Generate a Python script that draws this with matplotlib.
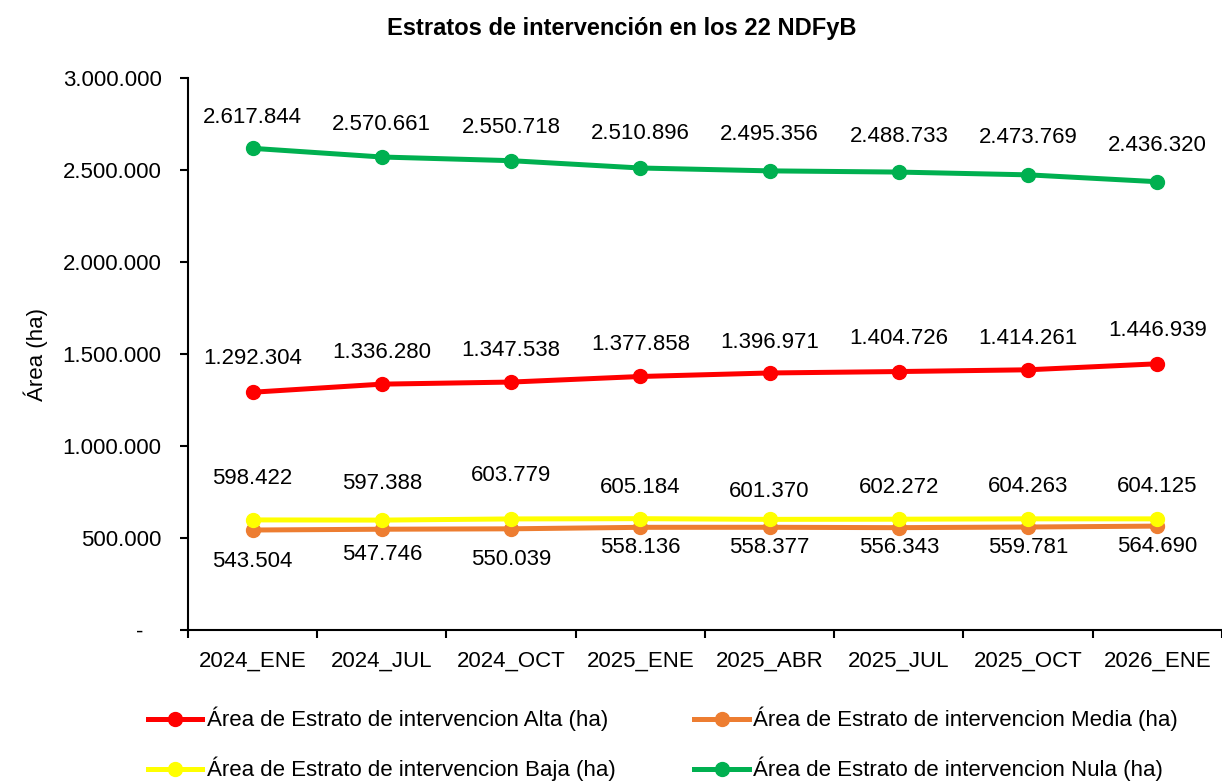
import matplotlib
matplotlib.use("Agg")
import matplotlib.pyplot as plt
from matplotlib.ticker import FuncFormatter, FixedLocator
from matplotlib.lines import Line2D

plt.rcParams['font.family'] = ['Liberation Sans', 'DejaVu Sans']

categories = ["2024_ENE", "2024_JUL", "2024_OCT", "2025_ENE", "2025_ABR", "2025_JUL", "2025_OCT", "2026_ENE"]
alta = [1292304, 1336280, 1347538, 1377858, 1396971, 1404726, 1414261, 1446939]
media = [543504, 547746, 550039, 558136, 558377, 556343, 559781, 564690]
baja = [598422, 597388, 603779, 605184, 601370, 602272, 604263, 604125]
nula = [2617844, 2570661, 2550718, 2510896, 2495356, 2488733, 2473769, 2436320]

names = ["Área de Estrato de intervencion Alta (ha)",
         "Área de Estrato de intervencion Media (ha)",
         "Área de Estrato de intervencion Baja (ha)",
         "Área de Estrato de intervencion Nula (ha)"]
colors = ["#ff0000", "#ed7d31", "#ffff00", "#00b050"]

# label offsets in pixels (style)
off_alta = [34, 32, 32, 32, 30, 33, 31, 33]
off_nula = [31, 33, 33, 35, 36, 36, 37, 36]
off_baja = [41, 37, 43, 31, 28, 32, 32, 32]
off_media = [-31, -25, -31, -20, -20, -20, -20, -20]

FS = 16

def fmt(v):
    return f"{int(v):,}".replace(",", ".")

fig = plt.figure(figsize=(12.22, 7.84), dpi=100)
ax = fig.add_axes([0.1538, 0.1964, 0.8462, 0.7041])

x = list(range(len(categories)))
series = [alta, media, baja, nula]
for vals, c in zip(series, colors):
    ax.plot(x, vals, color=c, lw=3.6, marker='o', ms=10, solid_capstyle='round', zorder=3)

px = 72 / 100.0
for vals, offs in [(alta, off_alta), (nula, off_nula), (baja, off_baja), (media, off_media)]:
    for xi, v, o in zip(x, vals, offs):
        ax.annotate(fmt(v), (xi, v), xytext=(0, o * px), textcoords='offset points',
                    ha='center', va='center', fontsize=FS)

ax.set_xlim(-0.5, len(categories) - 0.5)
ax.set_ylim(0, 3000000)
ax.set_yticks([0, 500000, 1000000, 1500000, 2000000, 2500000, 3000000])
ax.yaxis.set_major_formatter(FuncFormatter(lambda v, p: "-   " if v == 0 else fmt(v)))
ax.set_xticks(x)
ax.set_xticklabels(categories)
ax.xaxis.set_minor_locator(FixedLocator([i - 0.5 for i in range(len(categories) + 1)]))
ax.tick_params(axis='x', which='major', length=0, pad=15, labelsize=FS)
ax.tick_params(axis='x', which='minor', length=6, width=1.5, direction='out')
ax.tick_params(axis='y', length=6, width=1.5, labelsize=FS, pad=13)
for s in ['top', 'right']:
    ax.spines[s].set_visible(False)
for s in ['left', 'bottom']:
    ax.spines[s].set_linewidth(1.5)
ax.set_ylabel("Área (ha)", fontsize=FS)
ax.yaxis.set_label_coords(-0.135, 0.5)

fig.text(0.509, 1 - 28 / 784, "Estratos de intervención en los 22 NDFyB", fontsize=17,
         fontweight='bold', ha='center', va='center')

order = [0, 2, 1, 3]
handles = [Line2D([], [], color=colors[i], lw=3.6, marker='o', ms=10) for i in order]
labels = [names[i] for i in order]
fig.legend(handles, labels, loc='upper left', bbox_to_anchor=(0.1137, 0.1097), ncol=2,
           frameon=False, fontsize=FS, handlelength=2.45, handletextpad=0.2,
           columnspacing=3.55, labelspacing=1.15, borderaxespad=0)

fig.savefig("out.png", dpi=100)
